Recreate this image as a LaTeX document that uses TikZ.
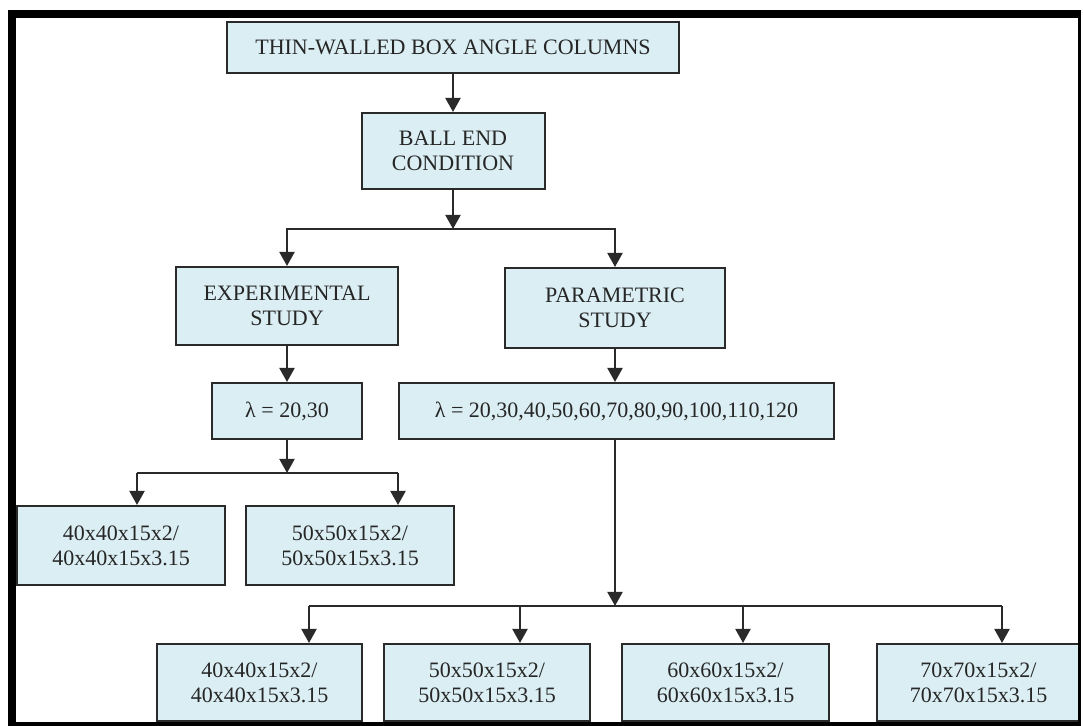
\documentclass[tikz,border=0pt]{standalone}
\usepackage{fontspec}
\setmainfont{Liberation Serif}
\usetikzlibrary{arrows.meta, positioning}
\definecolor{BOXfill}{HTML}{DAEEF3}
\definecolor{BOXedge}{HTML}{2A2A2A}

\begin{document}
\begin{tikzpicture}[x=0.5pt, y=-0.5pt,
    flowbox/.style={draw=BOXedge, line width=1pt, fill=BOXfill, inner sep=0pt,
      align=center, text=black!85, font=\fontsize{11}{12.5}\selectfont},
    arr/.style={-{Triangle[length=7pt, width=7.5pt]}, line width=1pt, BOXedge},
    bar/.style={line width=1pt, BOXedge}]

  \useasboundingbox (0,0) rectangle (1083,726);

  % Column type and end condition
  \node[flowbox, minimum width=226pt, minimum height=25.5pt] (cols) at (453,47.5)
    {THIN-WALLED BOX ANGLE COLUMNS};
  \node[flowbox, minimum width=91.5pt, minimum height=38pt] (ball) at (453,151)
    {BALL END\\CONDITION};
  \draw[arr] (cols) -- (ball);

  % The two studies
  \node[flowbox, minimum width=111pt, minimum height=39pt] (exp) at (287,306)
    {EXPERIMENTAL\\STUDY};
  \node[flowbox, minimum width=110pt, minimum height=40pt] (par) at (615,308)
    {PARAMETRIC\\STUDY};
  \coordinate (split1) at (453,229);
  \draw[arr] (ball) -- (split1);
  \draw[arr] (split1) -| (exp);
  \draw[arr] (split1) -| (par);

  % Slenderness ranges
  \node[flowbox, minimum width=75pt, minimum height=28pt] (lamexp) at (287,411)
    {λ = 20,30};
  \node[flowbox, minimum width=217.5pt, minimum height=28pt] (lampar) at (616.5,411)
    {λ = 20,30,40,50,60,70,80,90,100,110,120};
  \draw[arr] (exp) -- (lamexp);
  \draw[arr] (par) -- (par |- lamexp.north);

  % Experimental sections
  \node[flowbox, minimum width=104pt, minimum height=39.5pt] (exp40) at (121,545.5)
    {40x40x15x2/\\40x40x15x3.15};
  \node[flowbox, minimum width=104pt, minimum height=39.5pt] (exp50) at (350,545.5)
    {50x50x15x2/\\50x50x15x3.15};
  \coordinate (split2) at (287,473);
  \coordinate (tapA) at (137,473);
  \coordinate (tapB) at (398,473);
  \draw[arr] (lamexp) -- (split2);
  \draw[bar] (tapA) -- (tapB);
  \draw[arr] (tapA) -- (tapA |- exp40.north);
  \draw[arr] (tapB) -- (tapB |- exp50.north);

  % Parametric sections
  \node[flowbox, minimum width=102.5pt, minimum height=38.5pt] (par40) at (259.5,682.5)
    {40x40x15x2/\\40x40x15x3.15};
  \node[flowbox, minimum width=103pt, minimum height=38.5pt] (par50) at (487,682.5)
    {50x50x15x2/\\50x50x15x3.15};
  \node[flowbox, minimum width=103.5pt, minimum height=38.5pt] (par60) at (725.5,682.5)
    {60x60x15x2/\\60x60x15x3.15};
  \node[flowbox, minimum width=101.5pt, minimum height=38.5pt] (par70) at (978.5,682.5)
    {70x70x15x2/\\70x70x15x3.15};
  \coordinate (split3) at (615,606);
  \coordinate (tapC) at (309,606);
  \coordinate (tapD) at (520,606);
  \coordinate (tapE) at (743,606);
  \coordinate (tapF) at (1002,606);
  \draw[arr] (lampar.south -| split3) -- (split3);
  \draw[bar] (tapC) -- (tapF);
  \draw[arr] (tapC) -- (tapC |- par40.north);
  \draw[arr] (tapD) -- (tapD |- par50.north);
  \draw[arr] (tapE) -- (tapE |- par60.north);
  \draw[arr] (tapF) -- (tapF |- par70.north);

  % Frame
  \draw[line width=4pt] (8,14) -- (1080,14);
  \draw[line width=4pt] (12,10) -- (12,726);
  \draw[line width=1.5pt] (1079.5,10) -- (1079.5,726);
  \draw[line width=2pt] (8,724) -- (1081,724);

\end{tikzpicture}
\end{document}
